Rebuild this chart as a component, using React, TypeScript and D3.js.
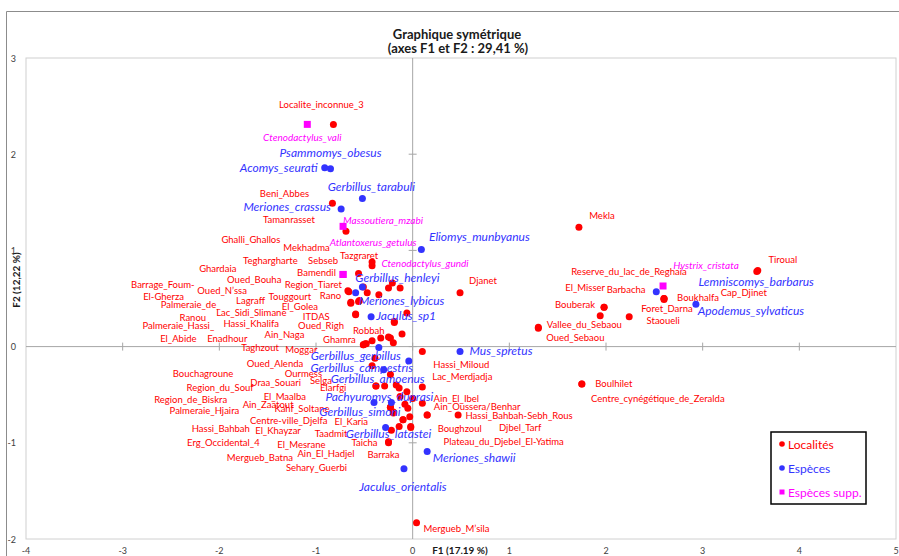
import * as d3 from 'd3'

// Localités : [nom, F1, F2]
const localites: Array<[string, number, number]> = [
  ['Localite_inconnue_3', -0.82, 2.31],
  ['Beni_Abbes', -0.83, 1.49],
  ['Tamanrasset', -0.69, 1.2],
  ['Tazgraret', -0.42, 0.88],
  ['Sebseb', -0.42, 0.84],
  ['Mekhadma', -0.56, 0.76],
  ['Ghalli_Ghallos', -0.67, 0.58],
  ['Teghargharte', -0.51, 0.62],
  ['Ghardaia', -0.64, 0.46],
  ['Bamendil', -0.55, 0.48],
  ['Oued_Bouha', -0.47, 0.56],
  ['Region_Tiaret', -0.21, 0.66],
  ['Rano', -0.25, 0.61],
  ['Touggourt', -0.35, 0.54],
  ['Oued_N’ssa', -0.13, 0.61],
  ['El-Gherza', -0.59, 0.34],
  ['Barrage_Foum-', -0.66, 0.57],
  ['Lagraff', -0.56, 0.47],
  ['Palmeraie_de_', -0.59, 0.33],
  ['El_Golea', -0.06, 0.35],
  ['Lac_Sidi_Slimane', -0.19, 0.26],
  ['ITDAS', -0.19, 0.25],
  ['Ranou', -0.64, 0.45],
  ['Palmeraie_Hassi_', -0.51, 0.02],
  ['Hassi_Khalifa', -0.48, 0.03],
  ['Oued_Righ', -0.42, 0.06],
  ['Robbah', -0.33, 0.09],
  ['El_Abide', -0.51, 0.02],
  ['Enadhour', -0.49, 0.03],
  ['Ain_Naga', -0.25, 0.1],
  ['Ghamra', -0.23, 0.09],
  ['Taghzout', -0.11, 0.13],
  ['Moggar', -0.2, 0.04],
  ['Djanet', 0.49, 0.56],
  ['Hassi_Miloud', 0.1, -0.05],
  ['Oued_Alenda', -0.39, -0.12],
  ['Bouchagroune', -0.42, -0.2],
  ['Ourmess', -0.23, -0.29],
  ['Selga', -0.38, -0.41],
  ['Draa_Souari', -0.29, -0.41],
  ['Elarfgi', -0.17, -0.4],
  ['Region_du_Souf', -0.14, -0.43],
  ['Lac_Merdjadja', 0.1, -0.42],
  ['El_Maalba', -0.06, -0.47],
  ['Region_de_Biskra', 0.0, -0.54],
  ['Ain_El_Ibel', 0.1, -0.59],
  ['Ain_Zaatout', -0.13, -0.52],
  ['Palmeraie_Hjaira', -0.23, -0.63],
  ['Kahf_Soltane', -0.08, -0.6],
  ['Centre-ville_Djelfa', -0.05, -0.64],
  ['El_Karia', -0.2, -0.69],
  ['Ain_Oussera/Benhar', 0.15, -0.71],
  ['Hassi_Bahbah', -0.03, -0.73],
  ['El_Khayzar', -0.1, -0.76],
  ['Taadmit', -0.14, -0.83],
  ['Boughzoul', -0.02, -0.83],
  ['Erg_Occidental_4', -0.22, -0.87],
  ['Taicha', -0.25, -0.99],
  ['El_Mesrane', -0.2, -0.68],
  ['Mergueb_Batna', -0.38, -0.41],
  ['Ain_El_Hadjel', -0.1, -0.76],
  ['Barraka', -0.25, -1.0],
  ['Sehary_Guerbi', -0.23, -0.63],
  ['Djbel_Tarf', 0.15, -0.71],
  ['Hassi_Bahbah-Sebh_Rous', 0.47, -0.71],
  ['Plateau_du_Djebel_El-Yatima', -0.02, -0.84],
  ['Mergueb_M’sila', 0.04, -1.83],
  ['Mekla', 1.72, 1.24],
  ['Tiroual', 3.57, 0.79],
  ['Cap_Djinet', 3.56, 0.78],
  ['Boukhalfa', 2.6, 0.5],
  ['Foret_Darna', 2.6, 0.49],
  ['Reserve_du_lac_de_Reghaia', 2.6, 0.5],
  ['Barbacha', 1.98, 0.41],
  ['Bouberak', 1.98, 0.41],
  ['El_Misser', 1.94, 0.32],
  ['Staoueli', 2.24, 0.31],
  ['Vallee_du_Sebaou', 1.3, 0.2],
  ['Oued_Sebaou', 1.3, 0.19],
  ['Boulhilet', 1.75, -0.39],
  ['Centre_cynégétique_de_Zeralda', 1.75, -0.39],
]

// Espèces : [nom, F1, F2]
const especes: Array<[string, number, number]> = [
  ['Psammomys_obesus', -0.85, 1.85],
  ['Acomys_seurati', -0.91, 1.86],
  ['Gerbillus_tarabuli', -0.52, 1.54],
  ['Meriones_crassus', -0.74, 1.43],
  ['Eliomys_munbyanus', 0.09, 1.01],
  ['Gerbillus_henleyi', -0.52, 0.62],
  ['Meriones_lybicus', -0.59, 0.56],
  ['Jaculus_sp1', -0.43, 0.31],
  ['Gerbillus_gerbillus', -0.35, -0.01],
  ['Gerbillus_campestris', -0.04, -0.15],
  ['Gerbillus_amoenus', -0.3, -0.24],
  ['Pachyuromys_duprasi', -0.22, -0.58],
  ['Gerbillus_simoni', -0.4, -0.58],
  ['Gerbillus_latastei', -0.28, -0.84],
  ['Meriones_shawii', 0.15, -1.09],
  ['Jaculus_orientalis', -0.09, -1.27],
  ['Mus_spretus', 0.49, -0.05],
  ['Lemniscomys_barbarus', 2.52, 0.57],
  ['Apodemus_sylvaticus', 2.93, 0.44],
]

// Espèces supplémentaires : [nom, F1, F2]
const especesSupp: Array<[string, number, number]> = [
  ['Ctenodactylus_vali', -1.09, 2.31],
  ['Massoutiera_mzabi', -0.72, 1.25],
  ['Atlantoxerus_getulus', -0.72, 0.75],
  ['Ctenodactylus_gundi', -0.72, 0.75],
  ['Hystrix_cristata', 2.59, 0.63],
]

const xTicks = [-4, -3, -2, -1, 0, 1, 2, 3, 4, 5]
const yTicks = [-2, -1, 0, 1, 2, 3]

// décalage des étiquettes (px) par rapport au point, comme placées à la main dans Excel
const labelOffset: Record<string, [number, number]> = {
  Localite_inconnue_3: [-12, -20],
  Beni_Abbes: [-48, -10],
  Tamanrasset: [-57, -12],
  Ghalli_Ghallos: [-97, -51],
  Mekhadma: [-52, -26],
  Teghargharte: [-93, -26],
  Sebseb: [-49, -5],
  Tazgraret: [-13, -6],
  Ghardaia: [-133, -34],
  Bamendil: [-43, -28],
  Oued_Bouha: [-113, -13],
  'Barrage_Foum-': [-186, -7],
  Region_Tiaret: [-79, 1],
  'Oued_N’ssa': [-178, 3],
  'El-Gherza': [-192, -17],
  Touggourt: [-89, 2],
  Rano: [-58, 8],
  Lagraff: [-108, -1],
  Palmeraie_de_: [-165, -10],
  El_Golea: [-107, -6],
  Lac_Sidi_Slimane: [-143, -9],
  Ranou: [-158, 14],
  ITDAS: [-78, -6],
  Palmeraie_Hassi_: [-185, -19],
  Hassi_Khalifa: [-115, -20],
  Oued_Righ: [-51, -15],
  Robbah: [-12, -7],
  El_Abide: [-185, -6],
  Enadhour: [-138, -5],
  Ain_Naga: [-104, -2],
  Ghamra: [-51, 2],
  Taghzout: [-142, 13],
  Moggar: [-92, 7],
  Djanet: [23, -12],
  Hassi_Miloud: [39, 13],
  Oued_Alenda: [-100, 5],
  Bouchagroune: [-169, 8],
  Ourmess: [-87, -1],
  Selga: [-55, -6],
  Draa_Souari: [-109, -4],
  Elarfgi: [-63, 2],
  Region_du_Souf: [-179, 0],
  Lac_Merdjadja: [40, -11],
  El_Maalba: [-122, 5],
  Region_de_Biskra: [-222, 1],
  Ain_El_Ibel: [34, -5],
  Ain_Zaatout: [-132, 8],
  Palmeraie_Hjaira: [-186, 3],
  Kahf_Soltane: [-103, 4],
  'Centre-ville_Djelfa': [-119, 12],
  El_Karia: [-42, 9],
  'Ain_Oussera/Benhar': [50, -8],
  Hassi_Bahbah: [-189, 12],
  El_Khayzar: [-125, 11],
  Taadmit: [-68, 7],
  Boughzoul: [49, 2],
  Erg_Occidental_4: [-168, 12],
  Taicha: [-24, 1],
  El_Mesrane: [-92, 32],
  Mergueb_Batna: [-116, 71],
  Ain_El_Hadjel: [-77, 34],
  Barraka: [-5, 12],
  Sehary_Guerbi: [-74, 60],
  Djbel_Tarf: [93, 13],
  'Hassi_Bahbah-Sebh_Rous': [61, 1],
  'Plateau_du_Djebel_El-Yatima': [93, 14],
  'Mergueb_M’sila': [40, 6],
  Mekla: [23, -12],
  Tiroual: [25, -11],
  Cap_Djinet: [-13, 21],
  Boukhalfa: [34, -1],
  Foret_Darna: [3, 9],
  Reserve_du_lac_de_Reghaia: [-35, -27],
  Barbacha: [22, -18],
  Bouberak: [-29, -3],
  El_Misser: [-15, -28],
  Staoueli: [34, 4],
  Vallee_du_Sebaou: [46, -3],
  Oued_Sebaou: [37, 9],
  Boulhilet: [32, -1],
  'Centre_cynégétique_de_Zeralda': [76, 14],
  Psammomys_obesus: [0, -16],
  Acomys_seurati: [-46, 0],
  Gerbillus_tarabuli: [9, -12],
  Meriones_crassus: [-54, -3],
  Eliomys_munbyanus: [58, -13],
  Gerbillus_henleyi: [35, -9],
  Meriones_lybicus: [46, 8],
  Jaculus_sp1: [35, -1],
  Gerbillus_gerbillus: [-23, 8],
  Gerbillus_campestris: [-47, 6],
  Gerbillus_amoenus: [-6, 9],
  Pachyuromys_duprasi: [-12, -6],
  Gerbillus_simoni: [-14, 9],
  Gerbillus_latastei: [3, 6],
  Meriones_shawii: [47, 6],
  Jaculus_orientalis: [-1, 18],
  Mus_spretus: [41, -1],
  Lemniscomys_barbarus: [100, -10],
  Apodemus_sylvaticus: [55, 6],
  Ctenodactylus_vali: [-5, 13],
  Massoutiera_mzabi: [40, -6],
  Atlantoxerus_getulus: [30, -32],
  Ctenodactylus_gundi: [82, -11],
  Hystrix_cristata: [43, -21],
}

const RED = '#ff0000'
const BLUE = '#3333ff'
const MAGENTA = '#ff00ff'
const FONT = 'Lato, "Open Sans", sans-serif'

export default function App() {
  const width = 899
  const height = 556
  const x = d3.scaleLinear().domain([-4, 5]).range([26, 896])
  const y = d3.scaleLinear().domain([-2, 3]).range([539, 58])

  const label = (name: string, px: number, py: number, color: string, size: number, italic: boolean) => {
    const [dx, dy] = labelOffset[name] ?? [20, 0]
    return (
      <text
        key={'t' + name}
        x={px + dx}
        y={py + dy}
        textAnchor="middle"
        dominantBaseline="central"
        fontSize={size}
        fontStyle={italic ? 'italic' : 'normal'}
        fill={color}
      >
        {name}
      </text>
    )
  }

  return (
    <svg
      width={width}
      height={height}
      style={{ position: 'absolute', left: 0, top: 0, fontFamily: FONT }}
    >
      <rect width={width} height={height} fill="#fff" />
      {/* cadre de la zone graphique */}
      <path d={`M6.5,${height} V11.5 H${width}`} fill="none" stroke="#8c8c8c" strokeWidth={1} />

      {/* titre */}
      <text x={457} y={34} textAnchor="middle" dominantBaseline="central" fontSize={13} fontWeight="bold" fill="#1a1a1a">
        Graphique symétrique
      </text>
      <text x={458} y={48} textAnchor="middle" dominantBaseline="central" fontSize={13} fontWeight="bold" fill="#1a1a1a">
        (axes F1 et F2 : 29,41 %)
      </text>

      {/* zone de tracé */}
      <rect x={x(-4)} y={y(3)} width={x(5) - x(-4)} height={y(-2) - y(3)} fill="none" stroke="#d0d0d0" />
      <line x1={x(-4)} x2={x(5)} y1={y(0)} y2={y(0)} stroke="#a6a6a6" />
      <line x1={x(0)} x2={x(0)} y1={y(3)} y2={y(-2)} stroke="#a6a6a6" />
      {xTicks.slice(1, -1).map((t) => (
        <line key={'xt' + t} x1={x(t)} x2={x(t)} y1={y(0) - 4} y2={y(0) + 4} stroke="#a6a6a6" />
      ))}
      {yTicks.slice(1, -1).map((t) => (
        <line key={'yt' + t} x1={x(0) - 4} x2={x(0) + 4} y1={y(t)} y2={y(t)} stroke="#a6a6a6" />
      ))}

      {/* graduations */}
      {xTicks.map((t) => (
        <text key={'xl' + t} x={x(t)} y={550} textAnchor="middle" dominantBaseline="central" fontSize={9} fill="#404040">
          {t}
        </text>
      ))}
      {yTicks.map((t) => (
        <text key={'yl' + t} x={16} y={y(t)} textAnchor="end" dominantBaseline="central" fontSize={9} fill="#404040">
          {t}
        </text>
      ))}
      <text x={460} y={550} textAnchor="middle" dominantBaseline="central" fontSize={10} fontWeight="bold" fill="#1a1a1a">
        F1 (17.19 %)
      </text>
      <text
        transform={`translate(16,${280}) rotate(-90)`}
        textAnchor="middle"
        dominantBaseline="central"
        fontSize={10}
        fontWeight="bold"
        fill="#1a1a1a"
      >
        F2 (12,22 %)
      </text>

      {/* localités */}
      {localites.map(([n, a, b]) => (
        <circle key={'c' + n} cx={x(a)} cy={y(b)} r={3.5} fill={RED} />
      ))}
      {localites.map(([n, a, b]) => label(n, x(a), y(b), RED, 9.5, false))}

      {/* espèces */}
      {especes.map(([n, a, b]) => (
        <circle key={'c' + n} cx={x(a)} cy={y(b)} r={3.5} fill={BLUE} />
      ))}
      {especes.map(([n, a, b]) => label(n, x(a), y(b), BLUE, 12, true))}

      {/* espèces supplémentaires */}
      {especesSupp.map(([n, a, b]) => (
        <rect key={'s' + n} x={x(a) - 3.5} y={y(b) - 3.5} width={7} height={7} fill={MAGENTA} />
      ))}
      {especesSupp.map(([n, a, b]) => label(n, x(a), y(b), MAGENTA, 10, true))}

      {/* légende */}
      <rect x={771} y={432} width={95} height={72} fill="#fff" stroke="#000" strokeWidth={1.5} />
      <circle cx={782} cy={444} r={2.8} fill={RED} />
      <text x={788} y={444} dominantBaseline="central" fontSize={12} fill={RED}>Localités</text>
      <circle cx={782} cy={468} r={2.8} fill={BLUE} />
      <text x={788} y={468} dominantBaseline="central" fontSize={12} fill={BLUE}>Espèces</text>
      <rect x={779.5} y={489.5} width={5} height={5} fill={MAGENTA} />
      <text x={788} y={492} dominantBaseline="central" fontSize={12} fill={MAGENTA}>Espèces supp.</text>
    </svg>
  )
}
